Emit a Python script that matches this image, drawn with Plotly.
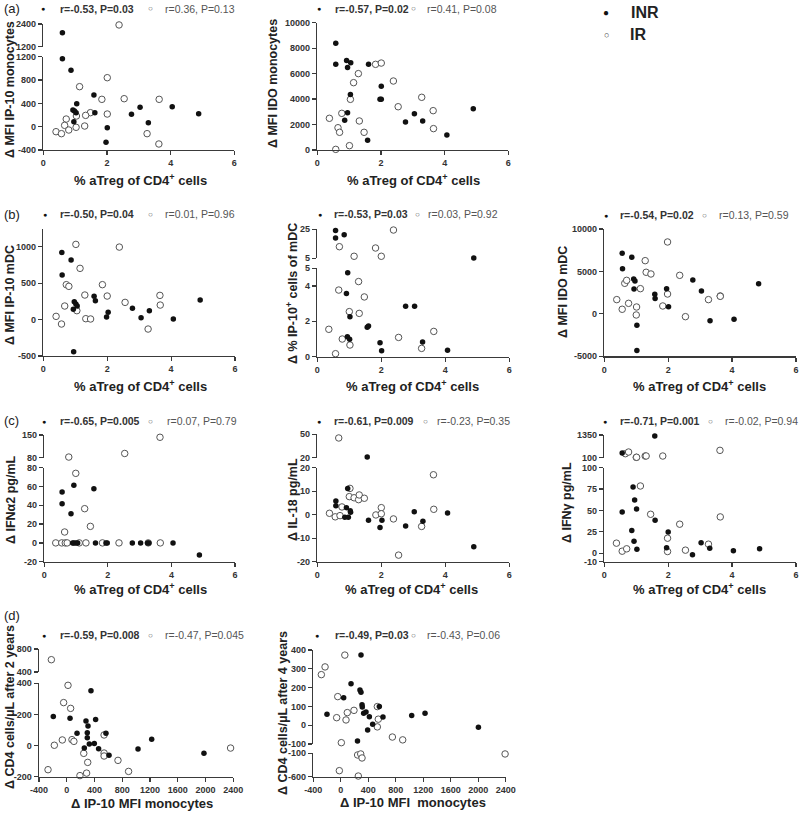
import plotly.graph_objects as go

# ---------------- data ----------------
A1_INR_X = [0.60, 0.60, 0.87, 1.05, 0.93, 0.98, 1.03, 0.96, 1.59, 1.62, 2.01, 1.97, 2.77, 3.04, 3.30, 4.05, 4.88]
A1_INR_Y = [1940, 1166, 966, 394, 286, 270, 240, 86, 543, 240, -17, -269, 211, 331, 69, 343, 223]
A1_IR_X = [2.38, 2.01, 1.14, 1.84, 2.54, 3.64, 1.48, 1.33, 1.04, 2.01, 0.72, 0.67, 0.80, 0.40, 0.57, 1.03, 1.30, 3.26, 3.63]
A1_IR_Y = [2350, 840, 686, 469, 480, 469, 240, 194, 183, 217, 131, 23, -57, -86, -120, -11, 11, -120, -297]

A2_INR_X = [0.58, 0.58, 0.92, 0.95, 1.05, 1.04, 0.95, 0.86, 1.61, 2.01, 1.97, 2.01, 1.58, 2.77, 3.05, 3.31, 4.07, 4.90]
A2_INR_Y = [8380, 6730, 7040, 6490, 6860, 4350, 2930, 2330, 6730, 5000, 3980, 3980, 760, 2200, 2850, 2280, 1180, 3250]
A2_IR_X = [0.38, 0.65, 0.70, 0.77, 0.58, 1.01, 1.04, 1.14, 1.29, 1.32, 1.47, 1.83, 2.01, 2.39, 2.54, 3.28, 3.64, 3.65]
A2_IR_Y = [2490, 1750, 1390, 2880, 50, 340, 3980, 5290, 6000, 2280, 1390, 6730, 6830, 5420, 3400, 4140, 3090, 1680]

B1_INR_X = [0.58, 0.59, 0.87, 0.94, 0.97, 1.02, 1.06, 0.95, 1.59, 1.63, 1.98, 2.03, 2.79, 3.06, 3.32, 4.07, 4.91]
B1_INR_Y = [922, 611, 817, 140, 246, 214, 186, -440, 319, 259, 35, 99, 154, 26, 122, 8, 269]
B1_IR_X = [0.40, 0.57, 0.67, 0.72, 0.80, 1.02, 1.05, 1.15, 1.30, 1.33, 1.48, 1.85, 2.00, 2.38, 2.56, 3.28, 3.65, 3.66]
B1_IR_Y = [44, -61, 186, 479, 456, 1032, 122, 703, 337, 12, 8, 479, 323, 995, 236, -130, 332, 199]

B2_INR_X = [0.57, 0.57, 0.84, 0.95, 0.91, 1.02, 0.94, 1.01, 1.56, 1.60, 1.96, 2.01, 2.76, 3.04, 3.29, 4.07, 4.89]
B2_INR_Y = [24.1, 19.0, 21.3, 4.75, 3.58, 2.26, 1.13, 0.98, 1.66, 1.74, 0.79, 0.34, 2.85, 2.85, 0.83, 0.36, 5.2]
B2_IR_X = [0.69, 1.15, 1.82, 2.00, 2.38, 0.67, 0.36, 0.78, 0.57, 1.00, 1.02, 1.29, 1.31, 1.47, 2.54, 3.26, 3.64]
B2_IR_Y = [13.0, 6.4, 12.1, 6.4, 24.5, 3.77, 1.55, 1.0, 0.17, 2.55, 0.66, 4.25, 2.45, 3.38, 1.09, 0.47, 1.43]

B3_INR_X = [0.56, 0.57, 0.86, 0.92, 0.96, 0.93, 1.02, 1.02, 1.58, 1.59, 1.95, 2.01, 2.77, 3.04, 3.31, 4.06, 4.83]
B3_INR_Y = [7130, 5330, 6660, 4110, 3880, 2930, -1350, -4330, 2300, 1800, 2970, 850, 3990, 2700, -800, -640, 3560]
B3_IR_X = [0.39, 0.56, 0.64, 0.70, 0.76, 1.01, 1.00, 1.13, 1.28, 1.31, 1.46, 1.83, 1.98, 1.98, 2.36, 2.54, 3.26, 3.63, 3.63]
B3_IR_Y = [1680, 540, 3600, 3950, 1240, 810, -130, 2970, 6270, 4900, 4700, 930, 8470, 2340, 4540, -330, 1680, 2110, 2070]

C1_INR_X = [0.56, 0.56, 0.93, 0.84, 1.56, 0.89, 0.93, 0.99, 1.05, 1.61, 1.94, 1.98, 2.77, 3.03, 3.25, 3.29, 4.05, 4.88]
C1_INR_Y = [54.1, 41.7, 61.2, 31.1, 57.5, 0, 0, 0, 0, 0, 0, 0, 0, 0, 0, 0, 0, -12.9]
C1_IR_X = [0.77, 2.53, 3.64, 0.99, 1.27, 1.45, 0.64, 0.36, 0.55, 0.66, 0.72, 1.10, 1.31, 1.83, 2.35, 3.27, 3.65]
C1_IR_Y = [82, 93, 143, 74, 36.4, 17.6, 11.6, 0, 0, 0, 0, 0, 0, 0, 0, 0, 0]

C2_INR_X = [1.56, 0.58, 0.58, 0.95, 0.91, 1.03, 1.04, 0.86, 0.97, 1.60, 2.02, 1.96, 2.76, 3.03, 3.30, 4.07, 4.89]
C2_INR_Y = [20.9, 5.8, 3.8, 11.1, 3.0, 1.7, 1.0, -1.1, -1.1, -2.4, -2.4, -5.4, -4.8, 1.3, -2.8, 0.7, -13.6]
C2_IR_X = [0.67, 0.38, 0.56, 0.71, 0.77, 1.02, 1.00, 1.15, 1.29, 1.31, 1.47, 1.83, 2.00, 2.00, 2.38, 2.54, 3.26, 3.63, 3.64]
C2_IR_Y = [45.3, 0.6, -0.9, -0.4, 3.3, 11.2, 7.7, 7.2, 6.4, 8.4, 7.0, -0.1, 3.0, 0.4, -1.8, -17.2, -5.0, 17.0, 2.3]

C3_INR_X = [1.58, 0.56, 0.90, 0.95, 1.01, 0.56, 1.59, 0.86, 0.93, 1.02, 2.00, 1.95, 2.76, 3.03, 3.30, 4.04, 4.86]
C3_INR_Y = [1295, 357, 77.4, 62.3, 51.8, 48.2, 38.5, 26.5, 14.0, 4.7, 24.9, 6.2, -1.9, 12.1, 5.8, 2.7, 5.1]
C3_IR_X = [0.66, 0.76, 1.00, 1.01, 1.28, 1.31, 1.83, 3.62, 0.38, 0.56, 0.70, 1.13, 1.45, 1.98, 1.98, 2.36, 2.54, 3.26, 3.63]
C3_IR_Y = [321, 413, 119, 125, 192, 195, 192, 505, 11.7, 2.3, 5.1, 78.6, 45.5, 17.5, 1.9, 33.9, 3.5, 10.5, 42.4]

D1_INR_X = [-194, 47, 148, 277, 306, 296, 296, 253, 325, 349, 397, 416, 459, 565, 609, 1027, 1224, 1977]
D1_INR_Y = [186, 175, 79, 158, 126, 83, 51, -16, 10, 352, 14, 168, -20, 79, -63, -22, 40, -50]
D1_IR_X = [-222, 18, -45, 56, -179, -64, 75, 103, -270, 245, 302, 190, 286, 538, 538, 538, 738, 891, 2361]
D1_IR_Y = [614, 387, 276, 239, 2, 36, 38, 27, -155, -50, -108, -193, -177, 68, -48, -67, -95, -166, -16]

D2_INR_X = [-201, 42, 149, 279, 294, 294, 309, 313, 333, 367, 416, 391, 464, 561, 614, 1032, 1226, 2003, 243]
D2_INR_Y = [58, 146, 221, 187, 175, 373, 109, 97, 63, 70, 45, -26, 5, 99, 43, 52, 63, -11, -84]
D2_IR_X = [-283, -229, 59, -44, -60, 95, 76, 192, 8, 532, 546, 532, 751, 901, 245, 290, 309, -21, 255, 2391]
D2_IR_Y = [269, 310, 373, 152, 40, 67, 28, 79, -93, 99, 32, -9, -63, -78, -136, -114, -200, -471, -586, -114]

STATS = {
    "a1": ("r=-0.53, P=0.03", "r=0.36, P=0.13"),
    "a2": ("r=-0.57, P=0.02", "r=0.41, P=0.08"),
    "b1": ("r=-0.50, P=0.04", "r=0.01, P=0.96"),
    "b2": ("r=-0.53, P=0.03", "r=0.03, P=0.92"),
    "b3": ("r=-0.54, P=0.02", "r=0.13, P=0.59"),
    "c1": ("r=-0.65, P=0.005", "r=0.07, P=0.79"),
    "c2": ("r=-0.61, P=0.009", "r=-0.23, P=0.35"),
    "c3": ("r=-0.71, P=0.001", "r=-0.02, P=0.94"),
    "d1": ("r=-0.59, P=0.008", "r=-0.47, P=0.045"),
    "d2": ("r=-0.49, P=0.03", "r=-0.43, P=0.06"),
}

XT_TREG = "% aTreg of CD4<sup>+</sup> cells"
ATREG_TICKS = [0, 2, 4, 6]
IP10_TICKS = [-400, 0, 400, 800, 1200, 1600, 2000, 2400]

# ---------------- layout (pixel geometry) ----------------
W, H = 800, 815
def fx(p): return p / W
def fy(p): return 1 - p / H

FONT = "Liberation Sans, Arial, sans-serif"
AXC = "#3a3a3a"

PANELS = [
    dict(key="a1", inr=(A1_INR_X, A1_INR_Y), ir=(A1_IR_X, A1_IR_Y), xr=(0, 6), xpix=(43.3, 234.3), xt=ATREG_TICKS,
         segs=[dict(r=(-400, 1200), pix=(150, 56.7), t=[-400, 0, 400, 800, 1200]),
               dict(r=(1200, 2400), pix=(46.7, 24), t=[1200, 2400])],
         xtitle=(XT_TREG, 140, 180), ytitle=("Δ MFI IP-10 monocytes", 10, 90),
         leg=(43, 58, 150, 163, 8.5)),
    dict(key="a2", inr=(A2_INR_X, A2_INR_Y), ir=(A2_IR_X, A2_IR_Y), xr=(0, 6), xpix=(317.3, 508.3), xt=ATREG_TICKS,
         segs=[dict(r=(0, 10000), pix=(150, 22.7), t=[0, 2000, 4000, 6000, 8000, 10000])],
         xtitle=(XT_TREG, 413, 180), ytitle=("Δ MFI IDO monocytes", 273, 84),
         leg=(319, 333, 414, 425, 8.5)),
    dict(key="b1", inr=(B1_INR_X, B1_INR_Y), ir=(B1_IR_X, B1_IR_Y), xr=(0, 6), xpix=(43.3, 235), xt=ATREG_TICKS,
         segs=[dict(r=(-500, 1250), pix=(356, 228.5), t=[-500, 0, 500, 1000])],
         xtitle=(XT_TREG, 140, 386), ytitle=("Δ MFI IP-10 mDC", 10, 295),
         leg=(44.5, 58, 150, 163, 214)),
    dict(key="b2", inr=(B2_INR_X, B2_INR_Y), ir=(B2_IR_X, B2_IR_Y), xr=(0, 6), xpix=(317.3, 509.3), xt=ATREG_TICKS,
         segs=[dict(r=(0, 5), pix=(356.7, 268.3), t=[0, 2, 4, 5]),
               dict(r=(5, 25), pix=(258.3, 229.3), t=[5, 25])],
         xtitle=(XT_TREG, 412, 386), ytitle=("Δ % IP-10<sup>+</sup> cells of mDC", 292, 294),
         leg=(320, 332, 417, 426, 214)),
    dict(key="b3", inr=(B3_INR_X, B3_INR_Y), ir=(B3_IR_X, B3_IR_Y), xr=(0, 6), xpix=(604.3, 796), xt=ATREG_TICKS,
         segs=[dict(r=(-5000, 10000), pix=(356.3, 229), t=[-5000, 0, 5000, 10000])],
         xtitle=(XT_TREG, 699, 386), ytitle=("Δ MFI IDO mDC", 563, 292),
         leg=(606, 618, 704, 717, 215)),
    dict(key="c1", inr=(C1_INR_X, C1_INR_Y), ir=(C1_IR_X, C1_IR_Y), xr=(0, 6), xpix=(44.3, 235), xt=ATREG_TICKS,
         segs=[dict(r=(-20, 80), pix=(561.7, 467.7), t=[-20, 0, 20, 40, 60, 80]),
               dict(r=(80, 150), pix=(457.7, 435), t=[80, 150])],
         xtitle=(XT_TREG, 140, 589), ytitle=("Δ IFNα2 pg/mL", 11, 500),
         leg=(44, 58, 150, 165, 421)),
    dict(key="c2", inr=(C2_INR_X, C2_INR_Y), ir=(C2_IR_X, C2_IR_Y), xr=(0, 6), xpix=(317.3, 509.3), xt=ATREG_TICKS,
         segs=[dict(r=(-20, 20), pix=(561.7, 467.7), t=[-20, -10, 0, 10, 20]),
               dict(r=(20, 50), pix=(457.7, 434.3), t=[20, 50])],
         xtitle=(XT_TREG, 411, 589), ytitle=("Δ IL-18 pg/mL", 293, 500),
         leg=(319, 332, 425, 435, 421)),
    dict(key="c3", inr=(C3_INR_X, C3_INR_Y), ir=(C3_IR_X, C3_IR_Y), xr=(0, 6), xpix=(604.3, 796), xt=ATREG_TICKS,
         segs=[dict(r=(-10, 100), pix=(561.7, 467.7), t=[-10, 0, 25, 50, 75, 100]),
               dict(r=(100, 1350), pix=(457.7, 435), t=[100, 1350])],
         xtitle=(XT_TREG, 699, 589), ytitle=("Δ IFNγ pg/mL", 567, 503),
         leg=(605, 618, 710, 723, 421)),
    dict(key="d1", inr=(D1_INR_X, D1_INR_Y), ir=(D1_IR_X, D1_IR_Y), xr=(-400, 2400), xpix=(39, 233.3), xt=IP10_TICKS,
         segs=[dict(r=(-200, 400), pix=(776.7, 683.3), t=[-200, 0, 200, 400]),
               dict(r=(400, 800), pix=(672, 649), t=[400, 800])],
         xtitle=("Δ IP-10 MFI monocytes", 142, 803), ytitle=("Δ CD4 cells/µL after 2 years", 10, 707),
         leg=(44, 58, 150, 163, 635)),
    dict(key="d2", inr=(D2_INR_X, D2_INR_Y), ir=(D2_IR_X, D2_IR_Y), xr=(-400, 2400), xpix=(313.3, 505.7), xt=IP10_TICKS,
         segs=[dict(r=(-600, -100), pix=(776.7, 753.3), t=[-600, -100]),
               dict(r=(-100, 400), pix=(744, 650), t=[-100, 0, 100, 200, 300, 400])],
         xtitle=("Δ IP-10 MFI  monocytes", 413, 802), ytitle=("Δ CD4 cells/µL after 4 years", 283, 713),
         leg=(317, 333, 413, 425, 635)),
]

fig = go.Figure()
lay = dict(width=W, height=H, margin=dict(l=0, r=0, t=0, b=0, pad=0), autosize=False,
           template="none",
           paper_bgcolor="white", plot_bgcolor="white", showlegend=False,
           font=dict(family=FONT, color="#222"))
ann = []
counters = {"x": 0, "y": 0}


def new_axis(kind):
    counters[kind] += 1
    n = counters[kind]
    return (kind if n == 1 else f"{kind}{n}"), (f"{kind}axis" if n == 1 else f"{kind}axis{n}")


def axis_style(rng, ticks, domain, anchor):
    return dict(range=list(rng), domain=list(domain), anchor=anchor, automargin=False,
                tickmode="array", tickvals=ticks, ticktext=[f"{t:g}" for t in ticks],
                showgrid=False, zeroline=False, showline=True, linecolor=AXC, linewidth=1.4,
                ticks="outside", ticklen=4, tickwidth=1.2, tickcolor=AXC,
                tickfont=dict(size=9, color="#333", family=FONT, weight="bold"),
                fixedrange=True)


def seg_index(y, segs):
    for i, s in enumerate(segs):
        lo, hi = s["r"]
        if lo <= y <= hi:
            return i
    return 0


INR_MARK = dict(symbol="circle", size=5.5, color="#111", line=dict(width=0))
IR_MARK = dict(symbol="circle", size=6.5, color="white", line=dict(color="#555", width=1))

for p in PANELS:
    xname, xlay = new_axis("x")
    ynames = [new_axis("y") for _ in p["segs"]]
    lay[xlay] = axis_style(p["xr"], p["xt"], (fx(p["xpix"][0]), fx(p["xpix"][1])), ynames[0][0])
    for (yname, ylay), s in zip(ynames, p["segs"]):
        lay[ylay] = axis_style(s["r"], s["t"], (fy(s["pix"][0]), fy(s["pix"][1])), xname)
    for grp, mark in (("ir", IR_MARK), ("inr", INR_MARK)):
        xs, ys = p[grp]
        for i, (yname, _) in enumerate(ynames):
            sx = [x for x, y in zip(xs, ys) if seg_index(y, p["segs"]) == i]
            sy = [y for y in ys if seg_index(y, p["segs"]) == i]
            if sx:
                fig.add_trace(go.Scatter(x=sx, y=sy, mode="markers", marker=mark,
                                         xaxis=xname, yaxis=yname, cliponaxis=False,
                                         hoverinfo="skip"))
    # titles
    t, cx, cy = p["xtitle"]
    ann.append(dict(text=t, x=fx(cx), y=fy(cy), xref="paper", yref="paper", showarrow=False,
                    xanchor="center", yanchor="middle",
                    font=dict(size=13, family=FONT, color="#222", weight="bold")))
    t, cx, cy = p["ytitle"]
    ann.append(dict(text=t, x=fx(cx), y=fy(cy), xref="paper", yref="paper", showarrow=False,
                    xanchor="center", yanchor="middle", textangle=-90,
                    font=dict(size=12.5, family=FONT, color="#222", weight="bold")))
    # stats legend row
    dx, tx, cxo, tx2, ly = p["leg"]
    s_inr, s_ir = STATS[p["key"]]
    ann.append(dict(text="●", x=fx(dx), y=fy(ly), xref="paper", yref="paper", showarrow=False,
                    xanchor="center", yanchor="middle", font=dict(size=7, color="#111")))
    ann.append(dict(text=s_inr, x=fx(tx), y=fy(ly), xref="paper", yref="paper", showarrow=False,
                    xanchor="left", yanchor="middle",
                    font=dict(size=10.5, family=FONT, color="#333", weight="bold")))
    ann.append(dict(text="○", x=fx(cxo), y=fy(ly), xref="paper", yref="paper", showarrow=False,
                    xanchor="center", yanchor="middle", font=dict(size=8, color="#555")))
    ann.append(dict(text=s_ir, x=fx(tx2), y=fy(ly), xref="paper", yref="paper", showarrow=False,
                    xanchor="left", yanchor="middle",
                    font=dict(size=10.5, family=FONT, color="#555")))

# panel letters
for lab, ly in (("(a)", 8), ("(b)", 214), ("(c)", 420), ("(d)", 615)):
    ann.append(dict(text=lab, x=fx(2), y=fy(ly), xref="paper", yref="paper", showarrow=False,
                    xanchor="left", yanchor="middle", font=dict(size=13, family=FONT, color="#222")))

# group legend (top right)
ann.append(dict(text="●", x=fx(606), y=fy(12.7), xref="paper", yref="paper", showarrow=False,
                xanchor="center", yanchor="middle", font=dict(size=10, color="#111")))
ann.append(dict(text="INR", x=fx(629), y=fy(12.7), xref="paper", yref="paper", showarrow=False,
                xanchor="left", yanchor="middle", font=dict(size=16, family=FONT, color="#222", weight="bold")))
ann.append(dict(text="○", x=fx(606), y=fy(35), xref="paper", yref="paper", showarrow=False,
                xanchor="center", yanchor="middle", font=dict(size=9, color="#444")))
ann.append(dict(text="IR", x=fx(628), y=fy(35), xref="paper", yref="paper", showarrow=False,
                xanchor="left", yanchor="middle", font=dict(size=16, family=FONT, color="#222", weight="bold")))

lay["annotations"] = ann
fig.update_layout(**lay)
fig.write_html("out.html", config={"displayModeBar": False, "staticPlot": True},
               post_script="document.body.style.margin='0';document.body.style.overflow='hidden';")
